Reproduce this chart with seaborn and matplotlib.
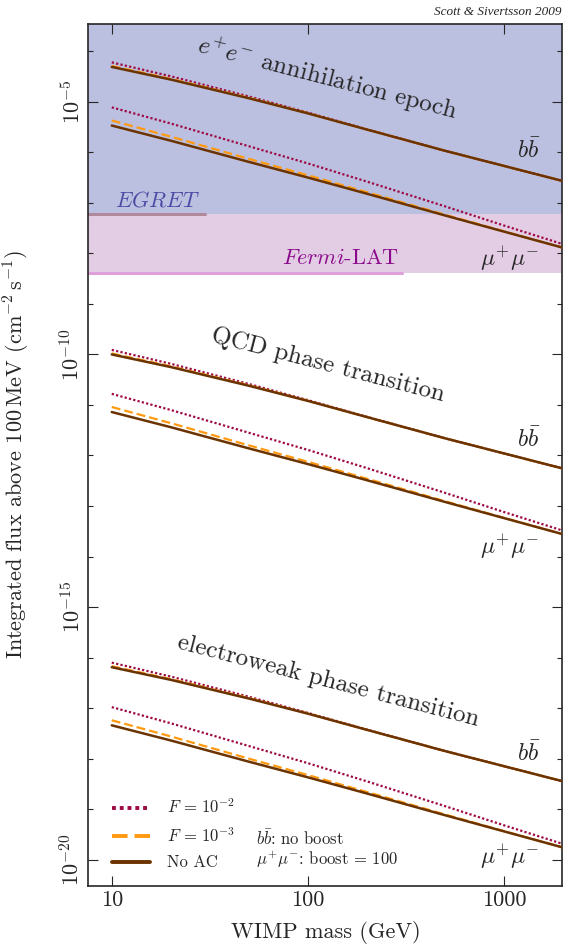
import numpy as np
import seaborn as sns
import matplotlib
matplotlib.use("Agg")
import matplotlib.pyplot as plt
from matplotlib.ticker import FixedLocator, NullLocator, NullFormatter, LogFormatterSciNotation

# WIMP masses (GeV)
mass = [10, 20, 50, 100, 200, 500, 1000, 2000]

# log10 of integrated flux above 100 MeV
# e+e- annihilation epoch
ee_bb_noac = [-4.31, -4.56, -4.93, -5.23, -5.55, -5.97, -6.27, -6.57]
ee_bb_f2 = [-4.22, -4.495, -4.895, -5.215, -5.545, -5.97, -6.27, -6.57]
ee_bb_f3 = [-4.29, -4.545, -4.92, -5.225, -5.55, -5.97, -6.27, -6.57]
ee_mm_noac = [-5.47, -5.77, -6.19, -6.50, -6.82, -7.25, -7.57, -7.89]
ee_mm_f2 = [-5.11, -5.43, -5.88, -6.22, -6.58, -7.07, -7.45, -7.82]
ee_mm_f3 = [-5.37, -5.69, -6.13, -6.455, -6.79, -7.235, -7.565, -7.89]
# QCD phase transition
qcd_bb_noac = [-10.00, -10.25, -10.62, -10.92, -11.24, -11.66, -11.96, -12.26]
qcd_bb_f2 = [-9.91, -10.185, -10.585, -10.905, -11.235, -11.66, -11.96, -12.26]
qcd_bb_f3 = [-9.98, -10.235, -10.61, -10.915, -11.24, -11.66, -11.96, -12.26]
qcd_mm_noac = [-11.14, -11.44, -11.86, -12.17, -12.49, -12.92, -13.24, -13.56]
qcd_mm_f2 = [-10.78, -11.10, -11.55, -11.89, -12.25, -12.74, -13.12, -13.49]
qcd_mm_f3 = [-11.04, -11.36, -11.80, -12.125, -12.46, -12.905, -13.235, -13.56]
# electroweak phase transition
ew_bb_noac = [-16.19, -16.44, -16.81, -17.11, -17.43, -17.85, -18.15, -18.45]
ew_bb_f2 = [-16.10, -16.375, -16.775, -17.095, -17.425, -17.85, -18.15, -18.45]
ew_bb_f3 = [-16.17, -16.425, -16.80, -17.105, -17.43, -17.85, -18.15, -18.45]
ew_mm_noac = [-17.34, -17.64, -18.06, -18.37, -18.69, -19.12, -19.44, -19.76]
ew_mm_f2 = [-16.98, -17.30, -17.75, -18.09, -18.45, -18.94, -19.32, -19.69]
ew_mm_f3 = [-17.24, -17.56, -18.00, -18.325, -18.66, -19.105, -19.435, -19.76]

# telescope sensitivities (cm^-2 s^-1) and upper mass reach (GeV)
egret_flux, egret_mass = 6.0e-8, 30
fermi_flux, fermi_mass = 4.0e-9, 300

c_f2 = "#9e0a44"
c_f3 = "#ff9a10"
c_noac = "#6b3300"

sns.set_style("ticks")
plt.rcParams["font.family"] = ["cmr10", "DejaVu Serif"]
plt.rcParams["mathtext.fontset"] = "cm"
plt.rcParams["axes.formatter.use_mathtext"] = True
plt.rcParams["axes.unicode_minus"] = False

fig = plt.figure(figsize=(5.63, 9.48), dpi=100)
ax = fig.add_axes([0.157, 0.0654, 0.842, 0.9093])

ax.set_xscale("log")
ax.set_yscale("log")
ax.set_xlim(7.6, 1980)
ax.set_ylim(10 ** -20.52, 10 ** -3.46)

ax.axhspan(egret_flux, 1, color="#bcc0e0", lw=0, zorder=0)
ax.axhspan(fermi_flux, egret_flux, color="#e3cde4", lw=0, zorder=0)
ax.plot([7.6, egret_mass], [egret_flux, egret_flux], color="#b08a9c", lw=2.2, zorder=1)
ax.plot([7.6, fermi_mass], [fermi_flux, fermi_flux], color="#df9fdb", lw=2.2, zorder=1)
ax.text(17, 10 ** -6.95, r"$\mathit{EGRET}$", color="#4b4ba5", fontsize=16,
        ha="center", va="center")
ax.text(146, 10 ** -8.09, r"$\mathit{Fermi}$-LAT", color="#8b0a8b", fontsize=16,
        ha="center", va="center")

groups = [
    (ee_bb_f2, ee_bb_f3, ee_bb_noac, ee_mm_f2, ee_mm_f3, ee_mm_noac),
    (qcd_bb_f2, qcd_bb_f3, qcd_bb_noac, qcd_mm_f2, qcd_mm_f3, qcd_mm_noac),
    (ew_bb_f2, ew_bb_f3, ew_bb_noac, ew_mm_f2, ew_mm_f3, ew_mm_noac),
]
x = np.array(mass)
for i, (bf2, bf3, bno, mf2, mf3, mno) in enumerate(groups):
    lab = i == 2
    for f2, f3, no in [(bf2, bf3, bno), (mf2, mf3, mno)]:
        sns.lineplot(x=x, y=10 ** np.array(f2), ax=ax, color=c_f2, lw=1.6,
                     linestyle=(0, (1, 1)), label=r"$F\,=\,10^{-2}$" if lab else None, zorder=3)
        sns.lineplot(x=x, y=10 ** np.array(f3), ax=ax, color=c_f3, lw=1.6,
                     linestyle=(0, (4, 1.8)), label=r"$F\,=\,10^{-3}$" if lab else None, zorder=3)
        sns.lineplot(x=x, y=10 ** np.array(no), ax=ax, color=c_noac, lw=1.8,
                     label="No AC" if lab else None, zorder=4)
        lab = False

# epoch labels
for txt, ly in [(r"$e^{+}e^{-}$ annihilation epoch", -4.53),
                ("QCD phase transition", -10.21),
                ("electroweak phase transition", -16.46)]:
    ax.text(126, 10 ** ly, txt, fontsize=18, rotation=-14.5, rotation_mode="anchor",
            ha="center", va="center")

for by, my in [(-5.96, -8.10), (-11.68, -13.81), (-17.90, -19.94)]:
    ax.text(1520, 10 ** by, r"$b\bar{b}$", fontsize=17, ha="right", va="center")
    ax.text(1520, 10 ** my, r"$\mu^{+}\mu^{-}$", fontsize=17, ha="right", va="center")

ax.text(0.354, 0.0557, r"$b\bar{b}$: no boost", transform=ax.transAxes,
        fontsize=12, ha="left", va="center")
ax.text(0.354, 0.0307, r"$\mu^{+}\mu^{-}$: boost = 100", transform=ax.transAxes,
        fontsize=12, ha="left", va="center")

leg = ax.legend(loc="lower left", bbox_to_anchor=(0.05, 0.018), frameon=False,
                fontsize=12, handlelength=2.3, handletextpad=1.0, labelspacing=0.6,
                borderpad=0, borderaxespad=0)
for h in leg.get_lines():
    h.set_linewidth(2.8)

# ticks
ax.set_xticks([10, 100, 1000], labels=["10", "100", "1000"])
ax.xaxis.set_minor_locator(NullLocator())
ax.yaxis.set_major_locator(FixedLocator([1e-20, 1e-15, 1e-10, 1e-5]))
ax.yaxis.set_major_formatter(LogFormatterSciNotation())
ax.yaxis.set_minor_locator(FixedLocator([10.0 ** k for k in range(-21, -2)]))
ax.yaxis.set_minor_formatter(NullFormatter())
ax.tick_params(which="both", direction="in", top=True, right=True, labelsize=16)
ax.tick_params(which="major", length=7, width=0.8)
ax.tick_params(which="minor", length=3.5, width=0.8)
for t in ax.get_yticklabels():
    t.set_rotation(90)
    t.set_va("center")
for s in ax.spines.values():
    s.set_linewidth(1.2)

ax.set_xlabel("WIMP mass (GeV)", fontsize=16, labelpad=8)
ax.set_ylabel(r"Integrated flux above $100\,\mathrm{MeV}$ $(\mathrm{cm}^{-2}\,\mathrm{s}^{-1})$",
              fontsize=16)
ax.yaxis.set_label_coords(-0.118, 0.5)

fig.text(0.997, 0.987, "Scott & Sivertsson 2009", fontsize=9.5,
         family="Liberation Serif", style="italic", ha="right", va="center")

fig.savefig("out.png", dpi=100)
